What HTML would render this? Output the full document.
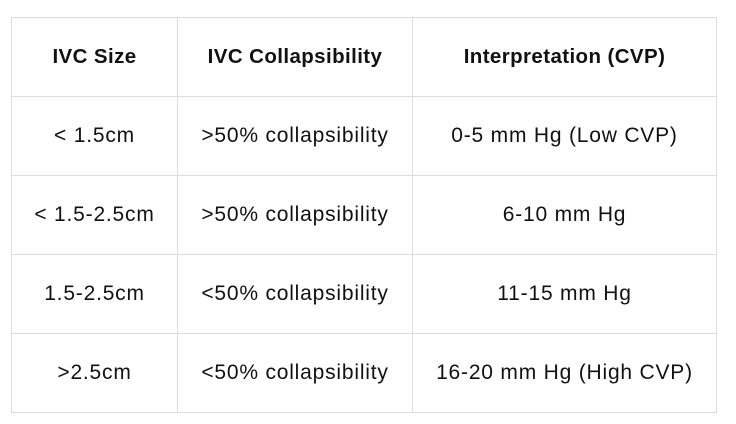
<!DOCTYPE html>
<html><head><meta charset="utf-8"><style>
body{margin:0;width:736px;height:424px;background:#fff;font-family:"Liberation Sans",Arial,sans-serif;}
table{position:absolute;left:11px;top:17px;border-collapse:collapse;}
td,th{border:1px solid #dcdcdc;height:78px;padding:0;text-align:center;font-size:21px;letter-spacing:0.8px;color:#111;}
th{font-weight:bold;font-size:20.5px;letter-spacing:0.4px;}
</style></head><body>
<table>
<colgroup><col style="width:166px"><col style="width:235px"><col style="width:304px"></colgroup>
<tr><th>IVC Size</th><th>IVC Collapsibility</th><th>Interpretation (CVP)</th></tr>
<tr><td>&lt; 1.5cm</td><td>&gt;50% collapsibility</td><td>0-5 mm Hg (Low CVP)</td></tr>
<tr><td>&lt; 1.5-2.5cm</td><td>&gt;50% collapsibility</td><td>6-10 mm Hg</td></tr>
<tr><td>1.5-2.5cm</td><td>&lt;50% collapsibility</td><td>11-15 mm Hg</td></tr>
<tr><td>&gt;2.5cm</td><td>&lt;50% collapsibility</td><td>16-20 mm Hg (High CVP)</td></tr>
</table>
</body></html>
